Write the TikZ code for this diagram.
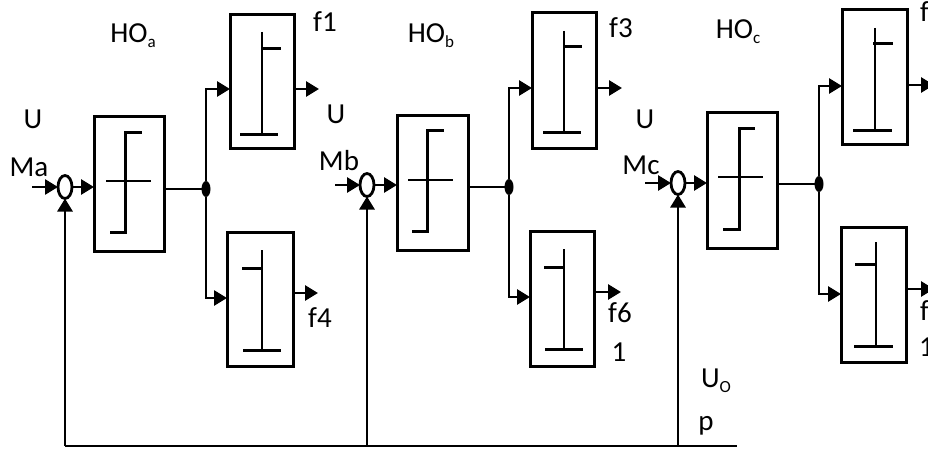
\documentclass[tikz,border=0pt]{standalone}
\usepackage{fontspec}
\setmainfont{Carlito}
\usetikzlibrary{arrows.meta,shapes.geometric}
\tikzset{
  blk/.style={draw,line width=3pt,inner sep=0pt,outer sep=0pt,fill=none},
  sumj/.style={draw,line width=2.8pt,ellipse,inner sep=0pt,outer sep=0pt,minimum width=14pt,minimum height=23pt},
  dotj/.style={fill=black,ellipse,inner sep=0pt,outer sep=0pt,minimum width=9pt,minimum height=16pt},
  wire/.style={line width=2.8pt},
  arr/.style={line width=2.8pt,-{Triangle[length=13pt,width=15pt]}},
  thick glyph/.style={line width=3pt},
  thin glyph/.style={line width=2pt},
  lab/.style={inner sep=0pt,font=\fontsize{29}{31}\selectfont}
}
\newcommand{\blocknode}[5]{\node[blk,minimum width={(#4-#2)*1pt},minimum height={(#5-#3)*1pt}] (#1) at ({(#2+#4)/2},{(#3+#5)/2}) {};}
\newcommand{\lowsub}[1]{\raisebox{-5pt}{\fontsize{17}{19}\selectfont #1}}
\begin{document}
\begin{tikzpicture}[x=1pt,y=-1pt]
\useasboundingbox (0,0) rectangle (928,449);
\clip (0,0) rectangle (928,449);
% ---- group a
\node[sumj] (sa) at (65,187) {};
\blocknode{ba}{94}{117}{164}{251}
\blocknode{ta}{230}{15}{294}{149}
\blocknode{da}{227}{232}{293}{366}
\node[dotj] (ja) at (206,189) {};
\coordinate (ia) at (32,187);
\coordinate (ota) at (319,89);
\coordinate (oda) at (318,293);
\coordinate (bal) at (65,446);
% ---- group b
\node[sumj] (sb) at (367,185) {};
\blocknode{bb}{397}{116}{468}{250}
\blocknode{tb}{532}{13}{596}{149}
\blocknode{db}{530}{231}{594}{366}
\node[dotj] (jb) at (509,187) {};
\coordinate (ib) at (335,185);
\coordinate (otb) at (622,88);
\coordinate (odb) at (621,292);
\coordinate (bbl) at (367,446);
% ---- group c
\node[sumj] (sc) at (678,183) {};
\blocknode{bc}{707}{113}{777}{248}
\blocknode{tc}{842}{10}{907}{145}
\blocknode{dc}{841}{227}{906}{362}
\node[dotj] (jc) at (819,184) {};
\coordinate (ic) at (645,183);
\coordinate (otc) at (934,85);
\coordinate (odc) at (934,289);
\coordinate (bcl) at (678,446);
\coordinate (bend) at (737,446);
% connectors a
\draw[arr] (ia) -- (sa);
\draw[arr] (sa) -- (ba.west |- sa);
\draw[wire] (ba.east |- ja) -- (ja);
\draw[arr] (ja) |- (ta.west |- 0,89);
\draw[arr] (ja) |- (da.west |- 0,298);
\draw[arr] (ta.east |- ota) -- (ota);
\draw[arr] (da.east |- oda) -- (oda);
\draw[arr] (bal) -- (sa);
% connectors b
\draw[arr] (ib) -- (sb);
\draw[arr] (sb) -- (bb.west |- sb);
\draw[wire] (bb.east |- jb) -- (jb);
\draw[arr] (jb) |- (tb.west |- 0,88);
\draw[arr] (jb) |- (db.west |- 0,297);
\draw[arr] (tb.east |- otb) -- (otb);
\draw[arr] (db.east |- odb) -- (odb);
\draw[arr] (bbl) -- (sb);
% connectors c
\draw[arr] (ic) -- (sc);
\draw[arr] (sc) -- (bc.west |- sc);
\draw[wire] (bc.east |- jc) -- (jc);
\draw[arr] (jc) |- (tc.west |- 0,86);
\draw[arr] (jc) |- (dc.west |- 0,294);
\draw[arr] (tc.east |- otc) -- (otc);
\draw[arr] (dc.east |- odc) -- (odc);
\draw[arr] (bcl) -- (sc);
% feedback bus
\draw[wire] (bal) -- (bend);
% glyphs in main blocks
\draw[thick glyph] (110,232) -- (125,232) -- (125,133) -- (142,133);
\draw[thin glyph] (106,181) -- (151,181);
\draw[thick glyph] (412,231) -- (427,231) -- (427,131) -- (444,131);
\draw[thin glyph] (408,180) -- (453,180);
\draw[thick glyph] (723,229) -- (739,229) -- (739,129) -- (755,129);
\draw[thin glyph] (718,177) -- (763,177);
% glyphs in upper blocks
\draw[thin glyph] (261.5,32) -- (261.5,135);
\draw[thick glyph] (262,49) -- (281,49);
\draw[thick glyph] (240,135) -- (278,135);
\draw[thin glyph] (564,31) -- (564,133);
\draw[thick glyph] (563,47) -- (582,47);
\draw[thick glyph] (543,133) -- (581,133);
\draw[thin glyph] (875,28) -- (875,131);
\draw[thick glyph] (873,44) -- (893,44);
\draw[thick glyph] (853,131) -- (892,131);
% glyphs in lower blocks
\draw[thin glyph] (262,250) -- (262,350);
\draw[thick glyph] (242,268) -- (262,268);
\draw[thick glyph] (243,350) -- (281,350);
\draw[thin glyph] (564,249) -- (564,349);
\draw[thick glyph] (544,267) -- (564,267);
\draw[thick glyph] (545,349) -- (583,349);
\draw[thin glyph] (876,242) -- (876,346);
\draw[thick glyph] (855,264) -- (876,264);
\draw[thick glyph] (854,346) -- (893,346);
% labels
\node[lab] (l1) at (133,36) {HO\lowsub{a}};
\node[lab] (l2) at (325,22) {f1};
\node[lab] (l3) at (33,119) {U};
\node[lab] (l4) at (29,167) {Ma};
\node[lab] (l5) at (336,114) {U};
\node[lab] (l6) at (320,318) {f4};
\node[lab] (l7) at (431,36) {HO\lowsub{b}};
\node[lab] (l8) at (621,28) {f3};
\node[lab] (l9) at (339,161) {Mb};
\node[lab] (l10) at (645,119) {U};
\node[lab] (l11) at (620,313) {f6};
\node[lab] (l12) at (619,352) {1};
\node[lab] (l13) at (641,165) {Mc};
\node[lab] (l14) at (738,32) {HO\lowsub{c}};
\node[lab,anchor=west] (l15) at (920,12) {f};
\node[lab,anchor=west] (l16) at (920,311) {f};
\node[lab,anchor=west] (l17) at (919,347) {1};
\node[lab] (l18) at (716,381) {U\lowsub{O}};
\node[lab] (l19) at (706,426) {p};
\end{tikzpicture}
\end{document}
